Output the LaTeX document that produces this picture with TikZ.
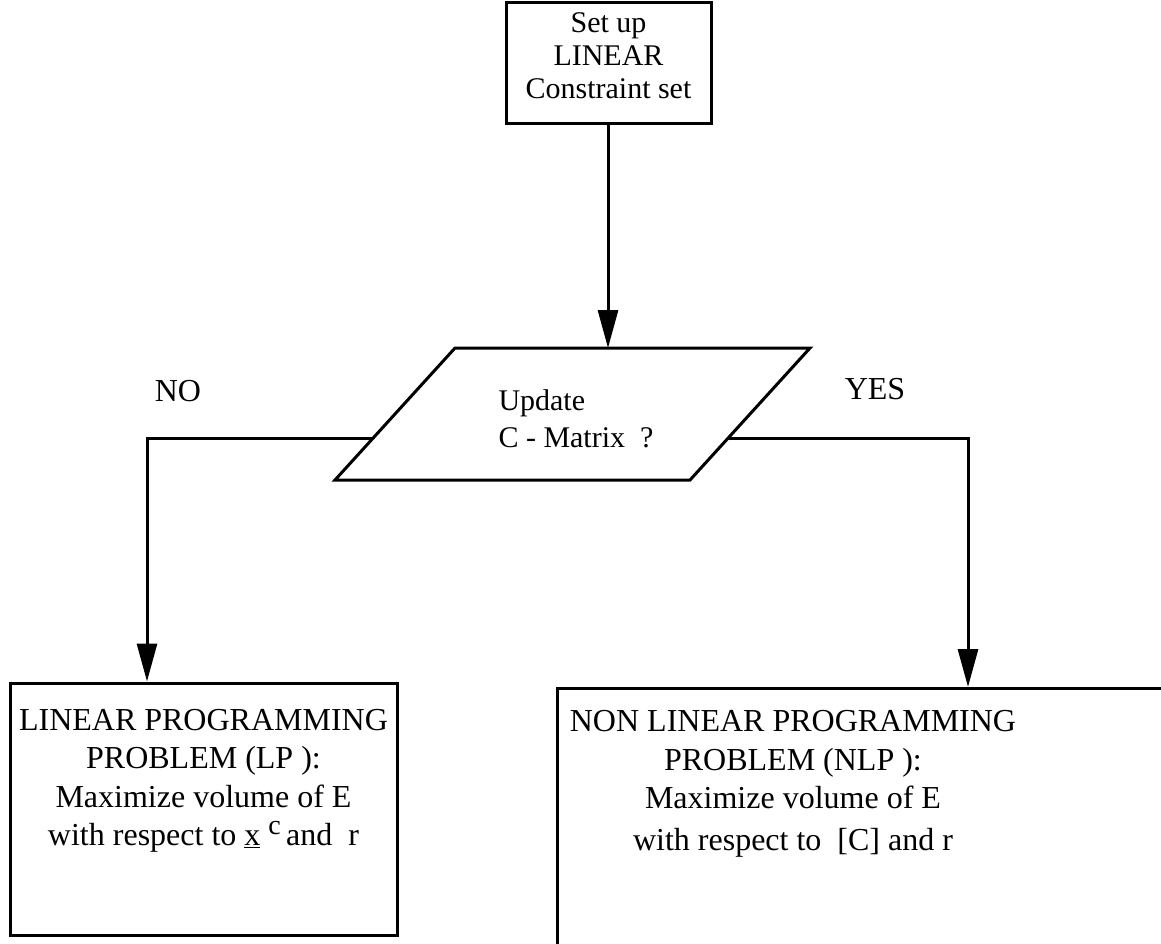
\documentclass[tikz,border=0pt]{standalone}
\usepackage{fontspec}
\setmainfont{Liberation Serif}
\usetikzlibrary{arrows.meta}
\begin{document}
\begin{tikzpicture}[x=1pt,y=-1pt,line width=3pt,
  txt/.style={font=\fontsize{32}{38.5}\selectfont, align=center, inner sep=0pt},
  boxshape/.style={draw, rectangle, inner sep=0pt},
  arr/.style={-{Triangle[length=38pt,width=20pt]}}]
\clip (0,0) rectangle (1161,943);
\fill[white] (0,0) rectangle (1161,943);
% top box
\node[boxshape, minimum width=205pt, minimum height=121pt] (top) at (608.5,62.5) {};
\node[txt, font=\fontsize{30}{33}\selectfont] (toptxt) at (608.5,56) {Set up\\LINEAR\\Constraint set};
% decision parallelogram
\coordinate (p1) at (455,348);
\coordinate (p2) at (810,348);
\coordinate (p3) at (690,480);
\coordinate (p4) at (335,480);
\draw (p1) -- (p2) -- (p3) -- (p4) -- cycle;
\coordinate (ptop) at (608,348);
\coordinate (pleft) at (373,438);
\coordinate (pright) at (728,438);
\node[txt, font=\fontsize{30}{37}\selectfont, align=left, anchor=west] (dtxt) at (497,419) {Update\\C - Matrix\ \ ?};
% bottom boxes
\node[boxshape, minimum width=387pt, minimum height=252pt] (lp) at (203.5,809) {};
\node[txt] (lptxt) at (203.5,781) {LINEAR PROGRAMMING\\PROBLEM (LP ):\\Maximize volume of E\\with respect to \underline{x}\ \raisebox{11pt}{\fontsize{28}{30}\selectfont c}\,and\ \ r};
\node[boxshape, minimum width=700pt, minimum height=400pt, anchor=north west] (nlp) at (556,687) {};
\node[txt] (nlptxt) at (793,784) {NON LINEAR PROGRAMMING\\PROBLEM (NLP ):\\Maximize volume of E\\[3pt]with respect to\ \ [C] and r};
% labels
\node[txt] (no) at (178,391) {NO};
\node[txt] (yes) at (875,389) {YES};
% connectors
\coordinate (lcorner) at (147,438);
\coordinate (rcorner) at (968,438);
\draw[arr] (top.south -| ptop) -- (ptop);
\draw[arr] (pleft) -- (lcorner) -- (lcorner |- lp.north);
\draw[arr] (pright) -- (rcorner) -- (rcorner |- nlp.north);
\end{tikzpicture}
\end{document}
